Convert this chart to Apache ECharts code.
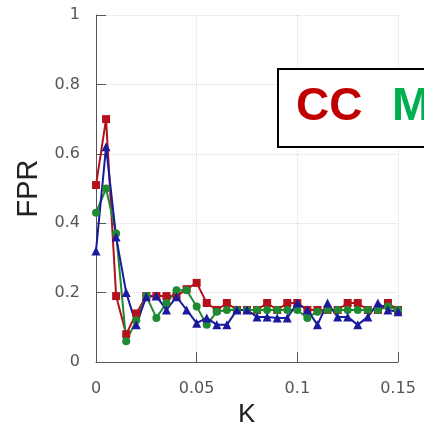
<!DOCTYPE html>
<html>
<head>
<meta charset="utf-8">
<script src="https://cdn.jsdelivr.net/npm/echarts@6/dist/echarts.min.js"></script>
<style>html,body{margin:0;padding:0;background:#fff}#c{width:424px;height:422px}</style>
</head>
<body>
<div id="c"></div>
<script>
const kValues = [0, 0.005, 0.01, 0.015, 0.02, 0.025, 0.03, 0.035, 0.04, 0.045, 0.05,
  0.055, 0.06, 0.065, 0.07, 0.075, 0.08, 0.085, 0.09, 0.095, 0.1,
  0.105, 0.11, 0.115, 0.12, 0.125, 0.13, 0.135, 0.14, 0.145, 0.15];
const ccValues = [0.51, 0.70, 0.19, 0.08, 0.14, 0.19, 0.19, 0.19, 0.19, 0.21, 0.228,
  0.17, 0.15, 0.17, 0.15, 0.15, 0.15, 0.17, 0.15, 0.17, 0.17,
  0.15, 0.15, 0.15, 0.15, 0.17, 0.17, 0.15, 0.15, 0.17, 0.15];
const mValues = [0.43, 0.50, 0.37, 0.06, 0.12, 0.19, 0.127, 0.17, 0.207, 0.207, 0.16,
  0.107, 0.145, 0.15, 0.15, 0.15, 0.15, 0.15, 0.15, 0.15, 0.15,
  0.127, 0.145, 0.15, 0.15, 0.15, 0.15, 0.15, 0.15, 0.16, 0.15];
const thirdValues = [0.32, 0.62, 0.36, 0.20, 0.107, 0.188, 0.19, 0.15, 0.188, 0.15, 0.112,
  0.127, 0.107, 0.107, 0.15, 0.15, 0.13, 0.13, 0.127, 0.127, 0.17,
  0.15, 0.107, 0.17, 0.13, 0.13, 0.107, 0.13, 0.17, 0.15, 0.145];
const xTicks = [0, 0.05, 0.1, 0.15];
const yTicks = [0, 0.2, 0.4, 0.6, 0.8, 1];
const seriesNames = ['CC', 'M', 'third'];

const chart = echarts.init(document.getElementById('c'), null, {renderer: 'canvas'});
const pair = v => kValues.map((k, i) => [k, v[i]]);
const axisFont = {color: '#555', fontSize: 16, fontFamily: 'DejaVu Sans, sans-serif'};
function mk(name, vals, color, symbol, size) {
  return {
    name, type: 'line', data: pair(vals), symbol, symbolSize: size,
    lineStyle: {color, width: 2}, itemStyle: {color}, animation: false
  };
}
chart.setOption({
  animation: false,
  grid: {left: 96, right: 26, top: 15, bottom: 60, containLabel: false, outerBoundsMode: 'none'},
  xAxis: {
    type: 'value', min: 0, max: 0.15, interval: 0.05,
    name: 'K', nameLocation: 'middle', nameGap: 36,
    nameTextStyle: {color: '#222', fontSize: 27, fontFamily: 'Liberation Sans, Arial, sans-serif'},
    axisLine: {show: true, lineStyle: {color: '#555', width: 1}},
    axisTick: {show: true, inside: true, length: 10, lineStyle: {color: '#555'}},
    axisLabel: Object.assign({margin: 19, formatter: v => xTicks.includes(+v.toFixed(3)) ? String(+v.toFixed(3)) : ''}, axisFont),
    splitLine: {show: true, lineStyle: {color: '#ddd', type: 'dotted'}}
  },
  yAxis: {
    type: 'value', min: 0, max: 1, interval: 0.2,
    name: 'FPR', nameLocation: 'middle', nameGap: 52, nameRotate: 90,
    nameTextStyle: {color: '#222', fontSize: 29, fontFamily: 'Liberation Sans, Arial, sans-serif'},
    axisLine: {show: true, lineStyle: {color: '#555', width: 1}},
    axisTick: {show: true, inside: true, length: 10, lineStyle: {color: '#555'}},
    axisLabel: Object.assign({margin: 16, formatter: v => yTicks.includes(+v.toFixed(2)) ? String(+v.toFixed(2)) : ''}, axisFont),
    splitLine: {show: true, lineStyle: {color: '#ddd', type: 'dotted'}}
  },
  series: [
    mk(seriesNames[0], ccValues, '#b3121c', 'rect', 8),
    mk(seriesNames[1], mValues, '#1e8a32', 'circle', 8),
    mk(seriesNames[2], thirdValues, '#1a1a9c', 'triangle', 9)
  ],
  graphic: [
    {type: 'rect', left: 277, top: 68, shape: {width: 170, height: 78},
      style: {fill: '#fff', stroke: '#000', lineWidth: 2}, z: 100},
    {type: 'text', left: 296, top: 84, z: 101,
      style: {text: 'CC', fill: '#c00000', font: 'bold 46px Liberation Sans, Arial, sans-serif'}},
    {type: 'text', left: 392, top: 84, z: 101,
      style: {text: 'M', fill: '#00b050', font: 'bold 46px Liberation Sans, Arial, sans-serif'}}
  ]
});
</script>
</body>
</html>
